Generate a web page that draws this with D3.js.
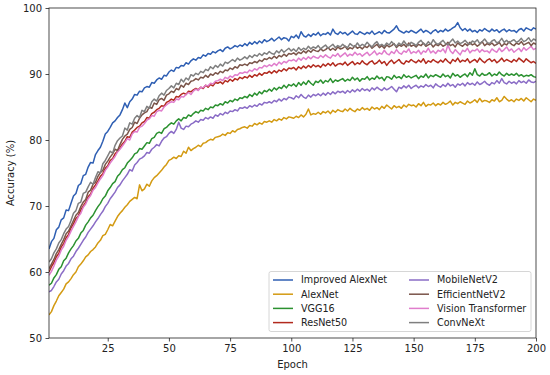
<!DOCTYPE html>
<html>
<head>
<meta charset="utf-8">
<script src="https://cdn.jsdelivr.net/npm/d3@7"></script>
<style>
body{margin:0;background:#fff;}
text{font-family:"DejaVu Sans",sans-serif;fill:#222;}
</style>
</head>
<body>
<svg id="chart" width="550" height="375"></svg>
<script>
var epochs=d3.range(1,201);
var xTicks=[25,50,75,100,125,150,175,200];
var yTicks=[50,60,70,80,90,100];

// one value per epoch, ten per row
var improvedAlexNet=[
63.5,64.6,65.1,66.4,66.8,67.9,68.2,69.4,69.3,70.4,
71.5,71.9,73.1,73.4,74.6,74.8,75.9,76.6,76.5,77.8,
78.4,78.9,79.8,80.9,81.3,81.9,82.6,82.9,83.4,83.8,
84.6,85.6,84.9,85.8,86.2,86.9,86.8,87.4,87.3,87.9,
88.1,88.0,88.7,88.6,89.1,89.4,89.2,89.8,89.7,90.3,
90.6,90.4,91.0,90.9,91.3,91.2,91.7,91.5,92.0,92.3,
92.1,92.5,92.4,92.9,92.7,93.1,93.0,93.4,93.2,93.5,
93.7,93.4,93.9,94.1,93.8,94.0,94.3,94.1,94.4,94.2,
94.6,94.3,94.8,94.5,94.9,94.6,95.0,94.7,95.2,94.9,
95.1,95.4,95.0,95.3,95.6,95.2,95.5,95.4,95.0,95.7,
95.5,95.9,95.4,96.4,95.8,95.6,96.0,95.7,96.1,95.9,
96.3,95.8,96.1,96.0,96.3,95.9,96.8,96.2,96.0,96.4,
96.1,96.3,95.9,96.2,96.5,96.1,96.0,96.4,96.2,96.0,
96.3,96.1,96.5,96.0,96.2,96.4,96.1,96.6,96.3,96.2,
96.5,96.8,97.3,96.6,96.4,96.2,96.5,96.3,96.6,96.4,
96.2,96.5,96.8,96.3,96.6,96.4,96.1,96.5,96.7,96.3,
96.6,96.4,96.8,96.5,96.7,97.0,97.2,97.8,97.0,96.6,
96.9,96.5,96.8,96.4,96.6,96.3,96.7,96.5,96.9,96.6,
96.4,96.8,96.5,96.7,96.3,96.6,96.8,96.4,96.7,96.5,
96.6,96.3,96.7,96.9,96.5,97.0,96.8,96.6,97.0,96.8];
var alexNet=[
53.5,54.0,54.9,55.6,56.4,56.9,57.4,58.2,58.5,59.0,
59.6,60.0,60.8,61.2,61.7,62.3,62.6,63.1,63.4,63.8,
64.4,64.8,65.5,65.7,66.4,67.2,67.0,67.7,68.4,68.9,
69.3,69.8,70.2,70.7,71.0,71.3,71.1,73.2,72.3,72.6,
73.3,73.0,73.8,74.3,74.6,75.0,75.4,75.9,76.3,76.9,
77.1,77.4,77.2,77.6,77.5,78.3,78.0,78.9,78.4,78.7,
78.9,79.2,79.0,79.5,79.6,79.9,80.1,80.0,80.4,80.5,
80.6,80.9,80.7,81.1,81.0,81.4,81.2,81.6,81.7,81.9,
82.0,81.8,82.2,82.1,82.5,82.3,82.6,82.4,82.8,82.7,
82.9,82.7,83.1,82.9,83.2,83.0,83.4,83.2,83.5,83.4,
83.3,83.6,83.4,83.8,83.5,83.9,84.7,83.8,84.0,83.9,
84.2,83.9,84.3,84.1,84.4,84.0,84.5,84.2,84.6,84.4,
84.3,84.7,84.4,84.8,84.5,84.3,84.7,84.5,84.9,84.6,
84.8,84.5,85.0,84.7,84.9,84.6,85.1,84.8,85.3,85.0,
84.7,85.2,84.9,85.1,84.8,85.3,85.0,85.4,85.2,85.3,
85.0,85.5,85.2,85.7,85.1,85.4,85.3,85.6,85.2,85.5,
85.3,85.7,85.4,85.6,85.9,85.3,85.7,85.5,85.8,85.6,
85.4,85.9,85.6,85.8,86.1,85.7,86.3,85.8,86.0,85.9,
85.7,86.1,85.9,86.4,85.8,86.0,86.6,86.2,85.9,86.1,
85.8,86.2,86.0,86.3,85.9,86.4,86.1,85.8,86.2,86.0];
var vgg16=[
58.0,58.3,59.1,59.6,60.4,60.8,61.7,62.1,62.9,63.5,
64.0,64.7,65.1,65.9,66.3,67.1,67.6,68.2,68.6,69.3,
69.9,70.4,71.1,71.5,72.3,72.8,73.4,73.7,74.5,74.9,
75.5,75.8,76.5,76.9,77.3,77.9,78.1,78.7,78.6,79.1,
79.6,79.5,80.2,80.4,81.0,81.2,81.0,81.7,81.9,82.3,
82.6,82.4,82.9,83.2,82.9,83.4,83.3,83.8,83.6,84.0,
84.3,84.1,84.5,84.4,84.8,84.6,85.0,84.9,85.3,85.2,
85.5,85.3,85.8,85.6,86.0,85.8,86.2,86.0,86.4,86.3,
86.6,86.4,86.9,86.6,87.1,86.8,87.3,87.0,87.5,87.3,
87.7,87.4,87.9,87.6,88.0,87.8,88.3,87.9,88.4,88.2,
88.5,88.1,88.7,88.3,88.8,88.4,89.0,88.6,88.3,88.9,
88.7,89.1,88.6,89.0,88.8,89.3,88.7,89.1,88.9,89.1,
89.3,88.9,89.2,89.0,89.5,89.1,89.4,88.9,89.3,89.2,
89.6,89.1,89.4,89.2,89.7,89.3,89.5,89.0,89.6,89.5,
89.2,89.8,89.4,89.6,89.3,89.9,89.5,89.7,89.4,89.6,
89.8,89.3,89.7,89.5,90.0,89.4,89.8,89.6,89.9,89.7,
89.5,90.0,89.6,89.8,89.4,90.1,89.7,89.9,89.5,89.8,
90.0,89.6,90.2,89.8,90.8,89.9,89.7,90.1,89.8,89.9,
90.2,89.7,90.0,89.8,90.3,89.9,89.7,90.1,89.8,90.0,
89.8,90.1,89.7,89.9,89.6,89.8,89.7,89.9,89.6,89.5];
var resNet50=[
60.0,60.8,61.4,62.3,62.8,63.8,64.3,65.2,65.7,66.7,
67.3,68.1,68.5,69.4,70.0,70.6,71.4,71.8,72.7,73.2,
73.8,74.5,74.9,75.7,76.1,76.9,77.2,77.9,78.3,78.8,
79.4,79.8,80.5,80.4,81.2,81.5,81.9,82.1,82.6,82.8,
83.4,83.3,84.0,84.2,84.6,84.8,85.2,85.1,85.7,85.9,
86.2,86.0,86.6,86.5,86.9,87.1,86.9,87.4,87.3,87.6,
87.8,87.6,88.0,87.8,88.3,88.0,88.4,88.2,88.7,88.6,
88.8,88.5,89.0,88.8,89.2,88.9,89.3,89.1,89.5,89.3,
89.6,89.4,89.8,89.5,89.9,89.7,90.1,89.8,90.2,90.1,
90.4,90.1,90.5,90.2,90.6,90.4,90.8,90.5,90.9,90.8,
91.0,90.6,91.1,90.8,91.2,90.9,91.3,91.0,91.4,91.1,
91.3,91.0,91.5,91.2,91.6,91.3,91.7,91.2,91.5,91.6,
91.4,91.8,91.3,91.6,91.9,91.4,91.7,91.5,92.0,91.6,
91.4,91.8,92.0,91.5,91.7,92.1,91.6,91.9,91.3,91.8,
92.1,91.6,91.9,92.2,91.7,91.5,92.0,91.8,92.2,91.9,
91.7,92.1,91.8,92.3,91.6,92.0,91.8,92.2,91.9,91.7,
92.1,91.8,92.3,91.9,91.6,92.2,91.9,92.4,91.8,92.1,
91.9,92.3,91.7,92.0,92.2,91.8,92.4,92.0,91.7,92.1,
92.3,91.9,92.2,91.7,92.0,92.4,91.9,92.2,92.0,91.8,
92.2,91.9,92.4,92.1,91.8,92.3,92.0,91.7,91.9,91.6];
var mobileNetV2=[
57.0,57.2,57.8,58.5,58.9,59.7,60.2,60.9,61.3,62.0,
62.4,63.1,63.6,64.2,64.8,65.3,66.0,66.5,67.0,67.6,
68.1,68.7,69.2,69.9,70.4,71.1,71.6,72.1,72.8,73.2,
73.8,74.3,74.8,75.5,75.3,76.2,76.6,77.1,77.3,77.6,
78.1,78.0,78.6,78.9,79.3,79.1,79.8,80.3,80.5,81.0,
81.3,81.0,81.6,82.7,81.8,81.6,82.1,82.0,82.4,82.6,
82.9,82.7,83.1,83.0,83.4,83.2,83.5,83.3,83.8,83.6,
84.0,83.8,84.2,84.0,84.4,84.3,84.6,84.4,84.9,84.8,
85.0,84.8,85.2,85.0,85.3,85.1,85.5,85.3,85.7,85.6,
85.8,85.6,86.0,85.8,86.2,85.9,86.3,86.1,86.5,86.4,
86.2,86.7,86.4,86.9,86.5,86.3,86.8,86.5,86.9,86.7,
87.0,86.7,87.1,86.8,87.2,86.9,87.3,87.0,87.4,87.2,
87.4,87.1,87.5,87.2,87.6,87.3,87.7,87.4,87.8,87.5,
87.7,87.4,87.9,87.6,88.0,87.7,87.5,87.9,87.6,87.8,
88.1,87.7,87.3,88.0,87.8,88.2,87.9,88.3,87.8,88.1,
88.3,87.9,88.2,88.0,88.4,88.1,88.3,87.9,88.5,88.2,
88.0,88.4,88.1,88.6,88.2,88.4,88.0,88.5,88.3,88.6,
88.2,88.7,88.4,88.6,88.3,88.8,88.4,88.6,88.9,88.5,
88.3,88.7,88.5,89.0,88.6,89.3,88.7,88.5,88.9,88.6,
88.8,88.5,89.0,88.7,88.9,88.6,89.1,88.8,88.7,88.9];
var efficientNetV2=[
60.5,61.2,61.9,62.8,63.4,64.2,64.9,65.8,66.2,67.0,
67.8,68.6,69.0,69.9,70.6,71.0,72.1,72.4,73.3,73.6,
74.5,75.1,75.4,76.3,76.8,77.4,77.9,78.6,78.4,79.3,
80.1,80.6,80.9,81.6,81.9,82.7,82.5,83.3,83.8,84.1,
84.3,85.0,84.8,85.6,85.4,86.1,86.3,86.0,86.8,87.0,
87.4,87.2,87.8,87.6,88.3,88.0,88.6,88.4,88.9,89.0,
89.3,89.1,89.5,89.4,89.8,89.5,90.0,89.8,90.2,90.0,
90.4,90.2,90.6,90.5,90.9,90.7,91.1,90.9,91.4,91.3,
91.5,91.3,91.7,91.6,91.9,91.7,92.1,91.9,92.3,92.2,
92.5,92.3,92.7,92.4,92.8,92.6,93.0,92.7,93.1,93.0,
93.2,92.9,93.3,93.1,93.5,93.2,93.6,93.3,93.7,93.5,
93.4,93.8,93.5,93.7,94.0,93.6,93.9,93.6,94.1,93.8,
93.9,94.2,93.7,94.0,93.8,94.3,93.9,94.1,93.8,94.2,
94.0,94.4,93.9,94.2,94.5,94.0,94.3,93.9,94.4,94.1,
94.3,94.6,94.0,94.4,94.2,94.5,94.1,94.7,94.2,94.4,
94.1,94.5,94.3,94.7,94.2,94.4,94.6,94.1,94.5,94.3,
94.6,94.2,94.4,94.8,94.3,94.5,94.1,94.7,94.4,94.2,
94.6,94.3,94.8,94.4,94.6,94.2,94.5,94.9,94.3,94.6,
94.4,94.7,94.3,94.5,94.8,94.2,94.6,94.4,94.9,94.5,
94.3,94.7,94.5,94.9,94.4,94.6,94.8,94.3,94.7,94.5];
var visionTransformer=[
59.5,60.1,60.9,61.8,62.4,63.3,63.9,64.8,65.4,66.2,
66.9,67.6,68.4,68.9,69.8,70.3,71.1,71.6,72.4,72.8,
73.5,74.1,74.6,75.4,75.9,76.5,77.0,77.5,78.2,78.6,
79.1,79.6,80.2,80.0,80.9,81.3,81.2,81.9,82.1,82.5,
83.0,83.2,83.7,83.6,84.3,84.5,84.4,85.0,85.3,85.6,
85.8,85.7,86.2,86.1,86.6,86.5,86.9,87.2,86.9,87.4,
87.7,87.5,88.0,87.9,88.3,88.2,88.6,88.5,88.9,89.0,
89.2,89.0,89.5,89.3,89.7,89.5,89.9,89.8,90.2,90.1,
90.3,90.2,90.6,90.4,90.8,90.6,91.0,90.9,91.3,91.1,
91.4,91.2,91.6,91.3,91.8,91.5,91.9,91.7,92.1,92.0,
92.2,91.9,92.4,92.1,92.5,92.2,92.6,92.3,92.7,92.5,
92.4,92.8,92.5,92.9,92.6,92.4,92.9,92.7,93.1,92.6,
92.9,93.2,92.7,93.0,92.8,93.3,92.9,93.1,92.7,93.0,
93.3,92.8,93.1,93.5,92.9,93.2,93.0,93.6,93.1,92.9,
93.4,93.1,93.7,93.2,93.0,93.5,93.3,93.8,93.1,93.4,
93.2,93.6,93.0,93.5,93.3,93.9,93.2,93.5,93.1,93.6,
93.4,93.8,93.2,94.4,93.5,93.1,93.7,93.3,92.9,93.6,
93.4,93.9,93.2,93.6,93.5,93.8,93.3,93.7,93.4,93.5,
93.2,93.8,93.5,93.3,93.9,93.4,93.7,94.1,93.5,93.8,
93.3,93.6,93.9,93.4,94.0,93.6,93.9,94.2,93.7,93.9];
var convNeXt=[
61.5,62.0,62.9,63.5,64.4,64.9,65.8,66.5,66.9,67.8,
68.9,69.3,70.4,70.6,71.9,72.1,72.9,73.6,73.3,74.3,
75.2,75.0,76.4,76.9,77.6,78.3,78.0,79.2,79.9,80.3,
80.6,81.8,81.5,82.6,82.4,83.3,83.7,83.4,84.5,84.3,
85.1,84.8,85.8,86.2,85.9,86.7,87.1,86.8,87.5,87.8,
88.2,87.9,88.6,88.4,89.2,88.8,89.4,89.1,89.9,89.7,
90.1,89.9,90.4,90.2,90.7,90.5,91.1,90.8,91.3,91.0,
91.5,91.2,91.8,91.6,91.9,92.2,91.9,92.4,92.1,92.3,
92.6,92.3,92.8,92.5,92.9,92.7,93.1,92.8,93.2,93.0,
93.4,93.1,93.0,93.5,93.2,93.7,93.3,93.6,93.9,93.5,
93.8,93.4,94.0,93.6,93.9,93.7,94.2,93.8,94.1,93.9,
94.3,93.8,94.1,94.4,93.9,94.2,94.5,94.0,94.3,94.1,
94.5,94.2,94.0,94.6,94.3,94.1,94.7,94.2,94.5,94.3,
94.8,94.4,94.1,94.6,94.9,94.3,94.5,94.2,94.7,94.4,
94.9,94.5,94.2,94.7,94.4,95.0,94.5,94.3,94.8,94.6,
94.3,94.8,95.1,94.6,94.4,94.9,94.5,95.2,94.7,94.5,
94.8,95.1,94.6,94.4,94.9,95.3,94.7,95.0,94.6,94.8,
95.1,94.7,94.5,95.0,94.8,95.2,94.6,94.9,95.3,94.8,
94.6,95.0,95.2,94.7,94.9,95.4,94.8,95.1,94.7,95.0,
95.2,94.8,95.0,95.4,94.9,95.1,95.5,94.9,95.3,95.1];

var seriesNames=["Improved AlexNet","AlexNet","VGG16","ResNet50","MobileNetV2","EfficientNetV2","Vision Transformer","ConvNeXt"];
var seriesValues=[improvedAlexNet,alexNet,vgg16,resNet50,mobileNetV2,efficientNetV2,visionTransformer,convNeXt];
var colors=["#2f5fb3","#d39a12","#2b9130","#b22a1e","#8a6cc6","#7a5449","#e07dcc","#7f7f7f"];
// draw order, improved model last so it sits on top
var drawOrder=[1,4,2,3,6,5,7,0];

var svg=d3.select("#chart");
var margin={left:49,right:14,top:8,bottom:37};
var W=550,H=375;

var x=d3.scaleLinear().domain([1,200]).range([margin.left,W-margin.right]);
var y=d3.scaleLinear().domain([50,100]).range([H-margin.bottom,margin.top]);

var line=d3.line().x(function(d,i){return x(epochs[i]);}).y(function(d){return y(d);});

svg.append("defs").append("clipPath").attr("id","clip").append("rect")
	.attr("x",margin.left).attr("y",margin.top)
	.attr("width",W-margin.right-margin.left).attr("height",H-margin.bottom-margin.top);

var g=svg.append("g").attr("clip-path","url(#clip)");
drawOrder.forEach(function(k){
	g.append("path").datum(seriesValues[k])
		.attr("d",line).attr("fill","none")
		.attr("stroke",colors[k]).attr("stroke-width",1.5)
		.attr("stroke-linejoin","round");
});

// axes
var xAxis=svg.append("g").attr("transform","translate(0,"+(H-margin.bottom)+")")
	.call(d3.axisBottom(x).tickValues(xTicks).tickSize(3.5).tickPadding(3.5));
var yAxis=svg.append("g").attr("transform","translate("+margin.left+",0)")
	.call(d3.axisLeft(y).tickValues(yTicks).tickSize(3.5).tickPadding(3.5));
[xAxis,yAxis].forEach(function(a){
	a.select(".domain").remove();
	a.selectAll("line").attr("stroke","#222").attr("stroke-width",0.8);
	a.selectAll("text").style("font-size","10px").attr("fill","#222");
});

svg.append("rect").attr("x",margin.left).attr("y",margin.top)
	.attr("width",W-margin.right-margin.left).attr("height",H-margin.bottom-margin.top)
	.attr("fill","none").attr("stroke","#222").attr("stroke-width",0.8);

svg.append("text").attr("x",(margin.left+W-margin.right)/2).attr("y",H-7)
	.attr("text-anchor","middle").style("font-size","10px").text("Epoch");
svg.append("text").attr("transform","translate(14,"+((margin.top+H-margin.bottom)/2)+") rotate(-90)")
	.attr("text-anchor","middle").style("font-size","10px").text("Accuracy (%)");

// legend
var leg=svg.append("g");
leg.append("rect").attr("x",269).attr("y",271.5).attr("width",262).attr("height",60)
	.attr("rx",2).attr("fill","#fff").attr("fill-opacity",0.8).attr("stroke","#ccc").attr("stroke-width",0.8);
seriesNames.forEach(function(name,i){
	var col=Math.floor(i/4),row=i%4;
	var lx=273+col*136,ly=280+row*14.2;
	leg.append("line").attr("x1",lx).attr("x2",lx+20).attr("y1",ly).attr("y2",ly)
		.attr("stroke",colors[i]).attr("stroke-width",1.5);
	leg.append("text").attr("x",lx+28).attr("y",ly).attr("dy","0.35em")
		.style("font-size","9.6px").text(name);
});
</script>
</body>
</html>
